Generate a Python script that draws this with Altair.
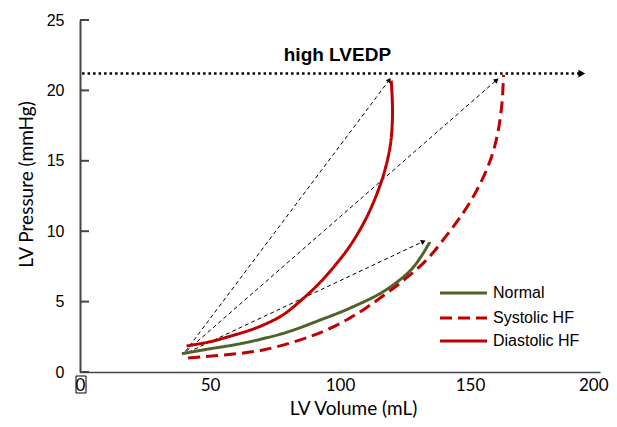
import math
import altair as alt
import pandas as pd

# ---------------- data ----------------
series_names = ["Normal", "Systolic HF", "Diastolic HF"]
series_colors = ["#4F6228", "#C00000", "#C00000"]
series_dashes = [[1, 0], [12, 6], [1, 0]]

normal_vol = [39.2, 50, 60, 70, 80, 92.5, 104, 117, 127, 131, 134.6]
normal_pres = [1.3, 1.65, 1.95, 2.35, 2.85, 3.7, 4.55, 5.75, 7.2, 8.15, 9.25]

systolic_vol = [41.6, 55, 70, 85, 95, 103, 110, 118, 126, 133.5, 141, 147, 152, 156, 159, 161, 162.3, 162.9]
systolic_pres = [1.0, 1.2, 1.55, 2.3, 3.0, 3.75, 4.55, 5.6, 6.75, 8.0, 9.7, 11.2, 12.7, 14.2, 15.7, 17.3, 19.1, 21.1]

diastolic_vol = [41, 50, 57, 65, 70, 78, 86, 92, 98, 104, 110, 114.5, 117.5, 119.5, 120.2, 119.7]
diastolic_pres = [1.85, 2.15, 2.5, 2.95, 3.3, 4.05, 5.25, 6.3, 7.55, 9.0, 10.9, 12.8, 14.5, 16.3, 18.5, 20.7]

arrow_x = [40.5, 41.0, 41.5]
arrow_y = [1.45, 1.5, 1.4]
arrow_x2 = [118.8, 160.0, 131.8]
arrow_y2 = [20.7, 20.7, 9.25]

lvedp_start = 0.8
lvedp_end = 193.0
lvedp_level = 21.2
lvedp_label = "high LVEDP"
lvedp_label_x = 99.0
lvedp_label_y = 22.5

x_ticks = [0, 50, 100, 150, 200]
y_ticks = [0, 5, 10, 15, 20, 25]

# ---------------- layout ----------------
W, H = 520, 352
XMAX, YMAX = 200, 25
PX_X, PX_Y = W / XMAX, H / YMAX
AXIS_COLOR = "#444444"
LEGEND_ROW_Y = [273, 298, 321]

rows = []
for name, vols, pres in [
    ("Normal", normal_vol, normal_pres),
    ("Systolic HF", systolic_vol, systolic_pres),
    ("Diastolic HF", diastolic_vol, diastolic_pres),
]:
    for i, (v, p) in enumerate(zip(vols, pres)):
        rows.append({"vol": v, "pres": p, "series": name, "ord": i})
curves = pd.DataFrame(rows)

arrows = pd.DataFrame({"x": arrow_x, "y": arrow_y, "x2": arrow_x2, "y2": arrow_y2})
arrows["angle"] = [
    (math.degrees(math.atan2((b - a) * PX_X, (d - c) * PX_Y)) + 360) % 360
    for a, b, c, d in zip(arrows.x, arrows.x2, arrows.y, arrows.y2)
]

xs = alt.Scale(domain=[0, XMAX], nice=False, zero=False)
ys = alt.Scale(domain=[0, YMAX], nice=False, zero=False)
color_scale = alt.Scale(domain=series_names, range=series_colors)
dash_scale = alt.Scale(domain=series_names, range=series_dashes)

last_x = x_ticks[-1]
lines = alt.Chart(curves).mark_line(strokeWidth=3, interpolate="catmull-rom").encode(
    x=alt.X("vol:Q", scale=xs, axis=alt.Axis(
        values=x_ticks, ticks=False, grid=False, domainColor=AXIS_COLOR, domainWidth=1.5,
        labelFont="Lato", labelFontSize=17, labelColor="black", labelPadding=5, labelFlush=False,
        labelAlign={"expr": f"datum.value == {last_x} ? 'right' : 'center'"},
        labelOffset={"expr": f"datum.value == {last_x} ? 8 : 0"},
        title="LV Volume (mL)", titleFont="Lato", titleFontSize=19, titleFontWeight="normal",
        titleColor="black", titleX=273, titleY=36, titleBaseline="middle")),
    y=alt.Y("pres:Q", scale=ys, axis=alt.Axis(
        values=y_ticks, ticks=False, grid=False, domainColor=AXIS_COLOR, domainWidth=2,
        labelFont="Liberation Sans", labelFontSize=16, labelColor="black", labelPadding=16,
        title="LV Pressure (mmHg)", titleFont="Lato", titleFontSize=19, titleFontWeight="normal",
        titleColor="black", titleX=-54, titleY=164, titleBaseline="middle")),
    color=alt.Color("series:N", scale=color_scale, legend=None),
    strokeDash=alt.StrokeDash("series:N", scale=dash_scale, legend=None),
    order="ord:Q",
)

legend_df = pd.DataFrame({"series": series_names, "ly": LEGEND_ROW_Y})
legend_lines = alt.Chart(legend_df).mark_rule(strokeWidth=3).encode(
    x=alt.value(360), x2=alt.value(407), y=alt.Y("ly:Q", scale=None),
    color=alt.Color("series:N", scale=color_scale, legend=None),
    strokeDash=alt.StrokeDash("series:N", scale=dash_scale, legend=None))
legend_text = alt.Chart(legend_df).mark_text(
    align="left", baseline="middle", font="Liberation Sans", fontSize=16, color="black").encode(
    x=alt.value(413), y=alt.Y("ly:Q", scale=None), text="series:N")

arrow_lines = alt.Chart(arrows).mark_rule(color="black", strokeWidth=1, strokeDash=[4, 3]).encode(
    x=alt.X("x:Q", scale=xs), y=alt.Y("y:Q", scale=ys), x2="x2:Q", y2="y2:Q")

arrow_heads = alt.Chart(arrows).mark_point(shape="triangle", filled=True, color="black", size=30, opacity=1).encode(
    x=alt.X("x2:Q", scale=xs), y=alt.Y("y2:Q", scale=ys), angle=alt.Angle("angle:Q", scale=None))

lvedp_df = pd.DataFrame({"x": [lvedp_start], "x2": [lvedp_end], "y": [lvedp_level]})
lvedp_line = alt.Chart(lvedp_df).mark_rule(color="black", strokeWidth=2.5, strokeDash=[2.5, 3]).encode(
    x=alt.X("x:Q", scale=xs), x2="x2:Q", y=alt.Y("y:Q", scale=ys))
lvedp_head = alt.Chart(lvedp_df).mark_point(shape="triangle-right", filled=True, color="black", size=60, opacity=1).encode(
    x=alt.X("x2:Q", scale=xs), y=alt.Y("y:Q", scale=ys))

label_df = pd.DataFrame({"x": [lvedp_label_x], "y": [lvedp_label_y], "t": [lvedp_label]})
label = alt.Chart(label_df).mark_text(font="Liberation Sans", fontSize=19, fontWeight="bold", color="black").encode(
    x=alt.X("x:Q", scale=xs), y=alt.Y("y:Q", scale=ys), text="t:N")

ytick_df = pd.DataFrame({"v": y_ticks})
yticks = alt.Chart(ytick_df).mark_rule(color=AXIS_COLOR, strokeWidth=2).encode(
    y=alt.Y("v:Q", scale=ys), x=alt.value(0), x2=alt.value(9))

box = alt.Chart(pd.DataFrame({"k": [0]})).mark_rect(filled=False, stroke="black", strokeWidth=1).encode(
    x=alt.value(-4), x2=alt.value(6), y=alt.value(H + 4), y2=alt.value(H + 21))

chart = alt.layer(
    yticks, arrow_lines, arrow_heads, lvedp_line, lvedp_head, label, lines,
    legend_lines, legend_text, box
).properties(
    width=W, height=H,
    autosize=alt.AutoSizeParams(type="none"),
    padding={"left": 72, "top": 12, "right": 9, "bottom": 47},
).configure_view(stroke=None)

chart.save("out.html", embed_options={"renderer": "svg", "actions": False})
